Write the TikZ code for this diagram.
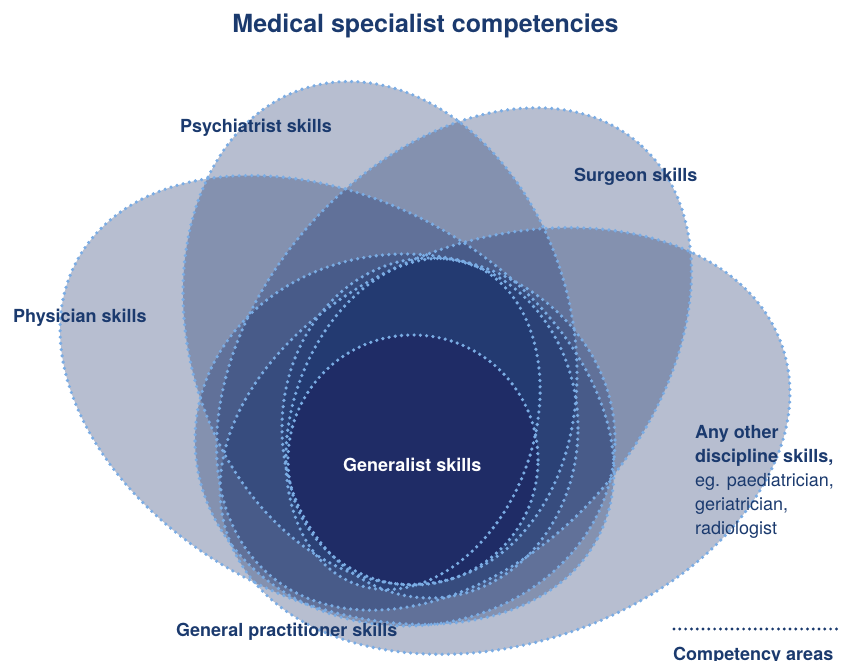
\documentclass[tikz,border=0pt]{standalone}
\usepackage{fontspec}
\setmainfont{TeX Gyre Heros}
\begin{document}
\begin{tikzpicture}[x=1pt,y=1pt]
\definecolor{navy}{RGB}{27,58,110}
\definecolor{petal}{RGB}{15,40,100}
\definecolor{core}{RGB}{31,44,102}
\definecolor{dotc}{RGB}{122,172,228}
\tikzset{
  petalfill/.style={fill=petal, fill opacity=0.3},
  dotline/.style={draw=dotc, line width=3.6pt, dash pattern=on 0pt off 6.3pt, line cap=round},
  lbl/.style={text=navy, font=\bfseries\fontsize{18}{22}\selectfont, inner sep=0pt},
  reg/.style={text=navy, font=\fontsize{18}{22}\selectfont, inner sep=0pt}
}
\useasboundingbox (0,0) rectangle (843,661);
\clip (0,0) rectangle (843,661);
% centres
\coordinate (cPhys) at (337,261);
\coordinate (cPsy) at (380,328);
\coordinate (cSur) at (454,302);
\coordinate (cAny) at (505,220);
\coordinate (cGP) at (405,221);
\coordinate (cA) at (430,233);
\coordinate (cB) at (413,237);
\coordinate (cGen) at (413,201);
% fills
\fill[petalfill] (cPhys) ellipse [x radius=295, y radius=200, rotate=-28];
\fill[petalfill] (cPsy) ellipse [x radius=256, y radius=191, rotate=-73.6];
\fill[petalfill] (cSur) ellipse [x radius=284, y radius=197, rotate=49.6];
\fill[petalfill] (cAny) ellipse [x radius=293, y radius=202, rotate=18.8];
\fill[petalfill] (cGP) ellipse [x radius=210, y radius=186];
\fill[petalfill] (cA) ellipse [x radius=148, y radius=170];
\fill[petalfill] (cB) ellipse [x radius=170, y radius=121, rotate=71];
\fill[core] (cGen) circle [radius=125];
% borders
\draw[dotline] (cPhys) ellipse [x radius=295, y radius=200, rotate=-28];
\draw[dotline] (cPsy) ellipse [x radius=256, y radius=191, rotate=-73.6];
\draw[dotline] (cSur) ellipse [x radius=284, y radius=197, rotate=49.6];
\draw[dotline] (cAny) ellipse [x radius=293, y radius=202, rotate=18.8];
\draw[dotline] (cGP) ellipse [x radius=210, y radius=186];
\draw[dotline] (cA) ellipse [x radius=148, y radius=170];
\draw[dotline] (cB) ellipse [x radius=170, y radius=121, rotate=71];
\draw[dotline] (cGen) circle [radius=125];
% labels
\node[text=navy, font=\bfseries\fontsize{25}{30}\selectfont, inner sep=0pt, anchor=base] (title) at (425.5,628) {Medical specialist competencies};
\node[lbl, anchor=base west] (lPsy) at (180,528) {Psychiatrist skills};
\node[lbl, anchor=base west] (lSur) at (574,479) {Surgeon skills};
\node[lbl, anchor=base west] (lPhys) at (13,338) {Physician skills};
\node[lbl, text=white, anchor=base west] (lGen) at (343,189) {Generalist skills};
\node[lbl, anchor=base west] (lAny1) at (695,222) {Any other};
\node[lbl, anchor=base west] (lAny2) at (695,198) {discipline skills,};
\node[reg, anchor=base west] (lAny3) at (695,174) {eg. paediatrician,};
\node[reg, anchor=base west] (lAny4) at (695,150) {geriatrician,};
\node[reg, anchor=base west] (lAny5) at (695,126) {radiologist};
\node[lbl, anchor=base west] (lGP) at (176,24) {General practitioner skills};
\coordinate (kS) at (674,32);
\coordinate (kE) at (842,32);
\draw[draw=navy, line width=3.2pt, dash pattern=on 0pt off 5.8pt, line cap=round] (kS) -- (kE);
\node[lbl, anchor=base west] (lKey) at (673,1) {Competency areas};
\end{tikzpicture}
\end{document}
